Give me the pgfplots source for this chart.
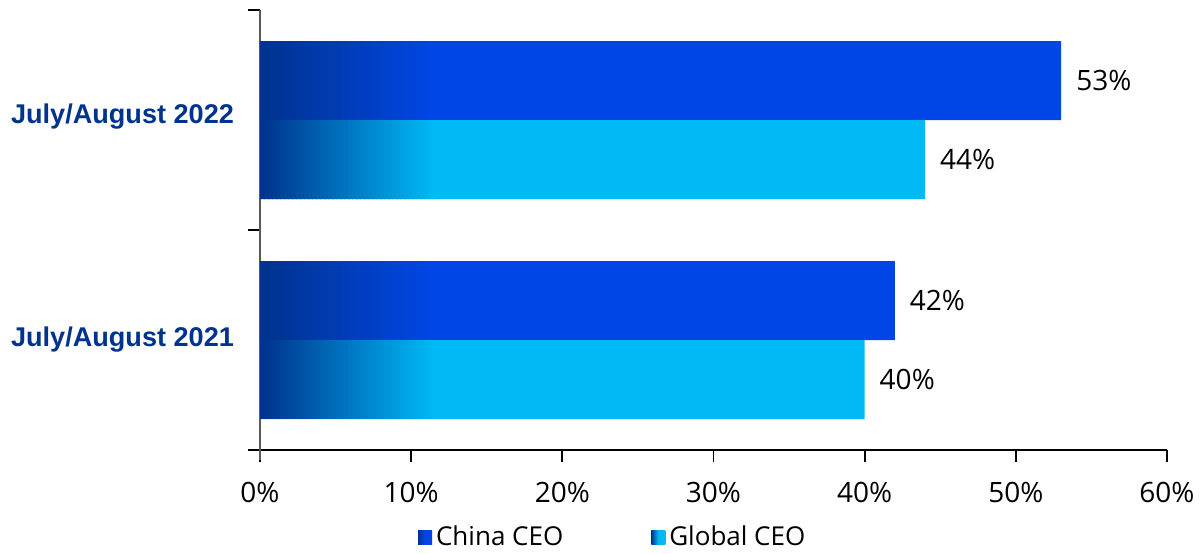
\documentclass[border=0pt]{standalone}
\usepackage{fontspec}
\setmainfont{Open Sans}
\newfontfamily\catfont{Liberation Sans}
\usepackage{pgfplots}
\pgfplotsset{compat=1.18}
\definecolor{kdark}{HTML}{00338D}
\definecolor{kcobalt}{HTML}{0046E6}
\definecolor{klight}{HTML}{00B9F5}
\definecolor{axgray}{HTML}{595959}
\tikzset{
  gradbar/.style={path picture={%
    \foreach \i in {0,...,43}{%
      \pgfmathsetmacro{\p}{\i/43*100}%
      \fill[path picture={}, color=#1!\p!kdark]
        ([xshift=\i*2pt]path picture bounding box.south west) rectangle
        ([xshift=\i*2pt+2.3pt]path picture bounding box.north west);
    }}}
}
\begin{document}
\begin{tikzpicture}
\useasboundingbox (-130pt,-51.5pt) rectangle (470pt,225pt);
\begin{axis}[
  at={(0,0)}, anchor=south west,
  scale only axis, width=453.5pt, height=220pt,
  xbar, bar width=39.5pt,
  xmin=0, xmax=60,
  ymin=-0.5, ymax=1.5,
  axis lines*=left,
  x axis line style={black, line width=0.9pt},
  y axis line style={axgray, line width=1.1pt, shorten <=-5pt},
  xtick={0,10,...,60},
  xticklabels={0\%,10\%,20\%,30\%,40\%,50\%,60\%},
  ytick={-0.5,0.5,1.5},
  y tick label as interval,
  yticklabels={{July/August 2021},{\raisebox{6pt}{July/August 2022}}},
  tick align=outside,
  major tick length=6pt,
  xtick style={black, line width=0.9pt},
  ytick style={black, line width=0.9pt},
  /pgf/number format/assume math mode=true,
  tick label style={font=\fontsize{14}{16}\selectfont},
  xticklabel style={yshift=-6.5pt},
  yticklabel style={font=\catfont\bfseries\fontsize{13.55}{15}\selectfont, text=kdark, xshift=-3.5pt},
  nodes near coords={\pgfmathprintnumber{\pgfplotspointmeta}\%},
  nodes near coords style={font=\fontsize{14}{16}\selectfont, anchor=west, xshift=4pt, text=black},
  legend style={at={(0.39,-0.198)}, anchor=center, draw=none, legend columns=2,
    font=\fontsize{13}{15}\selectfont, /tikz/every even column/.append style={column sep=42pt}},
  clip=false,
]
\addplot[draw=none, fill=kcobalt, bar shift=19.75pt, gradbar=kcobalt,
  legend image code/.code={\fill[path picture={}, left color=kdark, right color=kcobalt, middle color=kcobalt] (0pt,-3.5pt) rectangle (7pt,3.5pt);}]
  coordinates {(42,0) (53,1)};
\addlegendentry{China CEO}
\addplot[draw=none, fill=klight, bar shift=-19.75pt, gradbar=klight,
  legend image code/.code={\fill[path picture={}, left color=kdark, right color=klight, middle color=klight] (0pt,-3.5pt) rectangle (7pt,3.5pt);}]
  coordinates {(40,0) (44,1)};
\addlegendentry{Global CEO}
\end{axis}
\end{tikzpicture}
\end{document}
